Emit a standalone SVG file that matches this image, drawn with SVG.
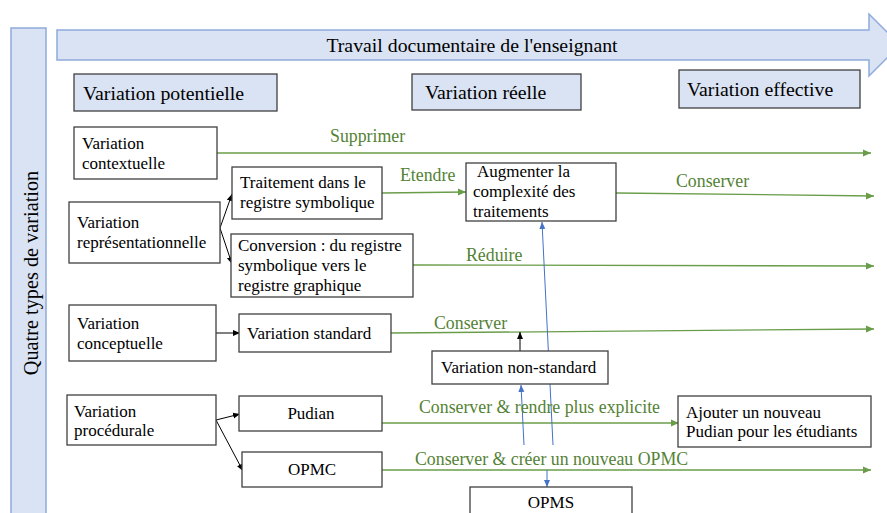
<svg xmlns="http://www.w3.org/2000/svg" width="887" height="513" viewBox="0 0 887 513" font-family="'Liberation Serif', 'DejaVu Serif', serif">
<style>
text{font-family:'Liberation Serif','DejaVu Serif',serif;fill:#000}
.n{font-size:17px}
.h{font-size:19.8px}
.g{font-size:17.8px;fill:#548235}
.box{fill:#fff;stroke:#404040;stroke-width:1.3}
.hbox{fill:#dae3f3;stroke:#404040;stroke-width:1.3}
.band{fill:#dae3f3;stroke:#8faadc;stroke-width:1.5}
.gl{stroke:#6a9d4a;stroke-width:1.3;fill:none;marker-end:url(#ga)}
.bl{stroke:#000;stroke-width:1;fill:none;marker-end:url(#ka)}
.bu{stroke:#4472c4;stroke-width:1;fill:none;marker-end:url(#ba)}
</style>
<defs>
<marker id="ga" markerUnits="userSpaceOnUse" markerWidth="9" markerHeight="8" refX="8" refY="4" orient="auto"><path d="M0,0.5 L8,4 L0,7.5 z" fill="#6a9d4a"/></marker>
<marker id="ka" markerUnits="userSpaceOnUse" markerWidth="8" markerHeight="7" refX="7" refY="3.5" orient="auto"><path d="M0,0.5 L7,3.5 L0,6.5 z" fill="#000"/></marker>
<marker id="ba" markerUnits="userSpaceOnUse" markerWidth="8" markerHeight="7" refX="7" refY="3.5" orient="auto"><path d="M0,0.5 L7,3.5 L0,6.5 z" fill="#4472c4"/></marker>
</defs>
<rect width="887" height="513" fill="#fff"/>

<g id="bande-gauche">
<rect class="band" x="11" y="28" width="35" height="492"/>
<text font-size="20.3" transform="translate(38,273) rotate(-90)" text-anchor="middle">Quatre types de variation</text>
</g>

<g id="fleche-travail">
<path class="band" d="M57,30 H869 V14 L900,45 L869,76 V60 H57 Z"/>
<text class="h" x="472" y="52" text-anchor="middle">Travail documentaire de l'enseignant</text>
</g>

<g id="variation-potentielle"><rect class="hbox" x="74" y="74" width="203" height="37"/><text class="h" x="83" y="100">Variation potentielle</text></g>
<g id="variation-reelle"><rect class="hbox" x="412" y="74" width="169" height="36"/><text class="h" x="425" y="99">Variation réelle</text></g>
<g id="variation-effective"><rect class="hbox" x="679" y="70" width="181" height="38"/><text class="h" x="687" y="96">Variation effective</text></g>

<g id="connecteurs">
<line class="gl" x1="217" y1="153" x2="871" y2="153"/>
<line class="gl" x1="382" y1="193" x2="466" y2="192"/>
<line class="gl" x1="616" y1="193" x2="874" y2="196"/>
<line class="gl" x1="413" y1="265" x2="874" y2="266"/>
<line class="gl" x1="391" y1="333" x2="874" y2="329"/>
<line class="gl" x1="382" y1="423" x2="679" y2="423"/>
<line class="gl" x1="382" y1="470" x2="871" y2="470"/>
<line class="bl" x1="220" y1="228" x2="232" y2="194"/>
<line class="bl" x1="220" y1="228" x2="232" y2="264"/>
<line class="bl" x1="216" y1="333" x2="240" y2="333"/>
<line class="bl" x1="216" y1="420" x2="240" y2="414"/>
<line class="bl" x1="216" y1="420" x2="243" y2="471"/>
<line class="bl" x1="520" y1="351" x2="520" y2="332"/>
<line class="bu" x1="553" y1="445" x2="542" y2="222"/>
<line class="bu" x1="524" y1="445" x2="521" y2="385"/>
<line class="bu" x1="547" y1="470" x2="547" y2="487"/>
<text class="g" x="330" y="142">Supprimer</text>
<text class="g" x="400" y="181">Etendre</text>
<text class="g" x="676" y="187">Conserver</text>
<text class="g" x="466" y="261">Réduire</text>
<text class="g" x="434" y="329">Conserver</text>
<text class="g" x="419" y="413">Conserver &amp; rendre plus explicite</text>
<text class="g" x="415" y="465">Conserver &amp; créer un nouveau OPMC</text>
</g>

<g id="variation-contextuelle"><rect class="box" x="74" y="127" width="143" height="52"/><text class="n" x="82" y="149">Variation</text><text class="n" x="82" y="169">contextuelle</text></g>
<g id="variation-representationnelle"><rect class="box" x="69" y="202" width="151" height="61"/><text class="n" x="77" y="228">Variation</text><text class="n" x="77" y="248">représentationnelle</text></g>
<g id="traitement"><rect class="box" x="232" y="167" width="150" height="52"/><text class="n" x="240" y="188">Traitement dans le</text><text class="n" x="240" y="208">registre symbolique</text></g>
<g id="conversion"><rect class="box" x="231" y="234" width="182" height="63"/><text class="n" x="238" y="251">Conversion : du registre</text><text class="n" x="238" y="271">symbolique vers le</text><text class="n" x="238" y="291">registre graphique</text></g>
<g id="augmenter"><rect class="box" x="466" y="163" width="150" height="58"/><text class="n" x="477" y="177">Augmenter la</text><text class="n" x="473" y="197">complexité des</text><text class="n" x="473" y="217">traitements</text></g>
<g id="variation-conceptuelle"><rect class="box" x="69" y="305" width="147" height="56"/><text class="n" x="77" y="329">Variation</text><text class="n" x="77" y="349">conceptuelle</text></g>
<g id="variation-standard"><rect class="box" x="239" y="314" width="152" height="38"/><text class="n" x="247" y="339">Variation standard</text></g>
<g id="variation-non-standard"><rect class="box" x="432" y="351" width="176" height="33"/><text class="n" x="441" y="373">Variation non-standard</text></g>
<g id="variation-procedurale"><rect class="box" x="67" y="395" width="149" height="50"/><text class="n" x="74" y="417">Variation</text><text class="n" x="74" y="436">procédurale</text></g>
<g id="pudian"><rect class="box" x="239" y="396" width="143" height="35"/><text class="n" x="311" y="419" text-anchor="middle">Pudian</text></g>
<g id="opmc"><rect class="box" x="242" y="452" width="140" height="35"/><text class="n" x="312" y="475" text-anchor="middle">OPMC</text></g>
<g id="ajouter"><rect class="box" x="678" y="396" width="193" height="51"/><text class="n" x="686" y="418">Ajouter un nouveau</text><text class="n" x="686" y="437">Pudian pour les étudiants</text></g>
<g id="opms"><rect class="box" x="470" y="487" width="162" height="40"/><text class="n" x="551" y="508" text-anchor="middle">OPMS</text></g>
</svg>
